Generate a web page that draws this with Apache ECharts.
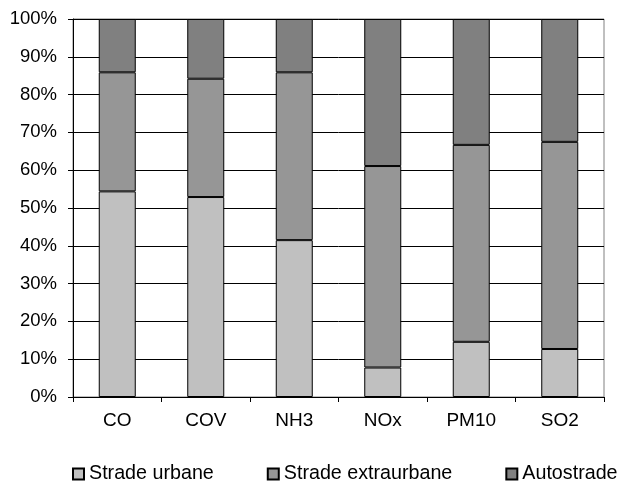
<!DOCTYPE html>
<html>
<head>
<meta charset="utf-8">
<script src="https://cdn.jsdelivr.net/npm/echarts@6/dist/echarts.min.js"></script>
<style>
html,body{margin:0;padding:0;background:#fff;}
#chart{width:621px;height:483px;}
</style>
</head>
<body>
<div id="chart"></div>
<script>
const categories = ['CO', 'COV', 'NH3', 'NOx', 'PM10', 'SO2'];
const stradeUrbane = [54.4, 52.9, 41.5, 7.8, 14.6, 12.7];
const stradeExtraurbane = [31.5, 31.3, 44.4, 53.3, 52.1, 54.8];
const autostrade = [14.1, 15.8, 14.1, 38.9, 33.3, 32.5];
const seriesNames = ['Strade urbane', 'Strade extraurbane', 'Autostrade'];
const yTicks = [0, 10, 20, 30, 40, 50, 60, 70, 80, 90, 100];

const font = 'Liberation Sans, Arial, sans-serif';
const chart = echarts.init(document.getElementById('chart'), null, {renderer: 'canvas'});

function barSeries(name, data, color) {
  return {
    name: name,
    type: 'bar',
    stack: 'total',
    data: data,
    barWidth: 37,
    itemStyle: {color: color, borderColor: '#000', borderWidth: 1},
    emphasis: {disabled: true}
  };
}

chart.setOption({
  animation: false,
  backgroundColor: '#fff',
  textStyle: {fontFamily: font},
  grid: {left: 73, right: 17, top: 19, bottom: 86, show: true, borderColor: '#808080', borderWidth: 1},
  legend: {
    left: 72,
    top: 464,
    width: 560,
    padding: 0,
    itemWidth: 11,
    itemHeight: 11,
    itemGap: 53,
    icon: 'rect',
    textStyle: {fontSize: 19.7, color: '#000', fontFamily: font},
    data: seriesNames
  },
  xAxis: {
    type: 'category',
    data: categories,
    boundaryGap: true,
    axisLine: {lineStyle: {color: '#000', width: 1}},
    axisTick: {show: true, length: 5, lineStyle: {color: '#000'}},
    axisLabel: {color: '#000', fontSize: 19, margin: 14, fontFamily: font}
  },
  yAxis: {
    type: 'value',
    min: yTicks[0],
    max: yTicks[yTicks.length - 1],
    interval: 10,
    axisLine: {show: true, lineStyle: {color: '#000', width: 1}},
    axisTick: {show: true, length: 5, lineStyle: {color: '#000'}},
    axisLabel: {color: '#000', fontSize: 18.5, margin: 16, fontFamily: font, formatter: '{value}%'},
    splitLine: {show: true, lineStyle: {color: '#000', width: 1}}
  },
  series: [
    barSeries(seriesNames[0], stradeUrbane, '#c0c0c0'),
    barSeries(seriesNames[1], stradeExtraurbane, '#969696'),
    barSeries(seriesNames[2], autostrade, '#808080')
  ]
});
</script>
</body>
</html>
